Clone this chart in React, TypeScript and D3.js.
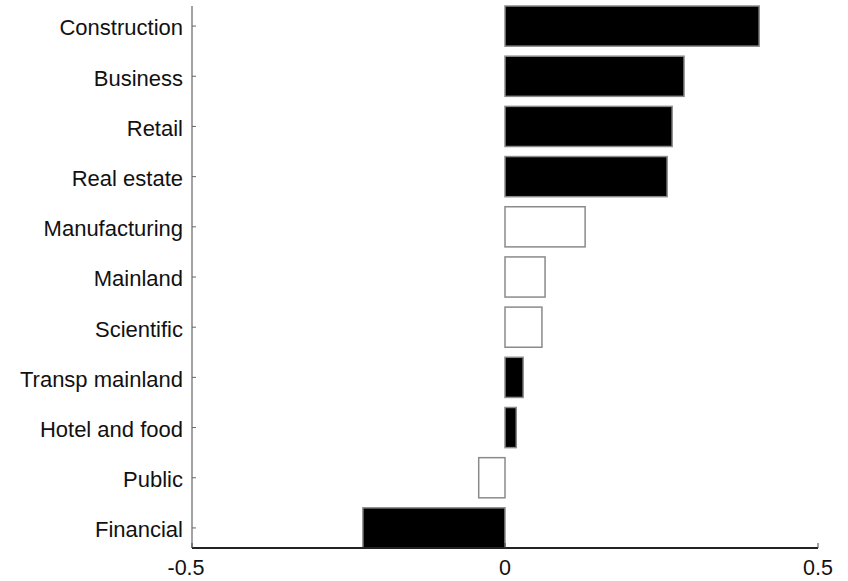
import React from "react";
import * as d3 from "d3";

const categories = [
  "Construction",
  "Business",
  "Retail",
  "Real estate",
  "Manufacturing",
  "Mainland",
  "Scientific",
  "Transp mainland",
  "Hotel and food",
  "Public",
  "Financial",
];
const values = [0.406, 0.286, 0.267, 0.259, 0.128, 0.064, 0.059, 0.029, 0.018, -0.042, -0.227];
const filled = [true, true, true, true, false, false, false, true, true, false, true];
const xTicks = [-0.5, 0, 0.5];
const xTickLabels = ["-0.5", "0", "0.5"];

const W = 848;
const H = 581;
const left = 192;
const right = 818;
const top = 6;
const bottom = 548;

export default function App() {
  const x = d3.scaleLinear().domain([-0.5, 0.5]).range([left, right]);
  const y = d3
    .scaleBand<string>()
    .domain(categories)
    .range([top, bottom])
    .paddingInner(0.2)
    .paddingOuter(0);
  const font = "'Liberation Sans', Arial, sans-serif";
  return (
    <svg
      width={W}
      height={H}
      style={{ position: "absolute", left: 0, top: 0, background: "#fff" }}
      fontFamily={font}
    >
      {categories.map((c, i) => {
        const v = values[i];
        const x0 = x(Math.min(0, v));
        const x1 = x(Math.max(0, v));
        return (
          <rect
            key={c}
            x={x0}
            y={y(c)!}
            width={x1 - x0}
            height={y.bandwidth()}
            fill={filled[i] ? "#000" : "#fff"}
            stroke="#8a8a8a"
            strokeWidth={1.5}
          />
        );
      })}
      {/* left axis */}
      <line x1={left} x2={left} y1={top} y2={bottom} stroke="#666" strokeWidth={1.2} />
      {categories.map((c) => {
        const cy = y(c)! + y.bandwidth() / 2;
        return (
          <g key={c}>
            <line x1={left} x2={left + 4} y1={cy} y2={cy} stroke="#666" strokeWidth={1} />
            <text x={left - 9} y={cy + 1.5} dy="0.36em" textAnchor="end" fontSize={22} fill="#111">
              {c}
            </text>
          </g>
        );
      })}
      {/* bottom axis */}
      <line x1={left} x2={right} y1={bottom} y2={bottom} stroke="#222" strokeWidth={1.8} />
      {xTicks.map((t, i) => (
        <g key={t}>
          <line x1={x(t)} x2={x(t)} y1={bottom} y2={bottom - 5} stroke="#444" strokeWidth={1} />
          <text
            x={x(t) + (t < 0 ? -6 : 0)}
            y={575}
            textAnchor="middle"
            fontSize={21.5}
            fill="#111"
          >
            {xTickLabels[i]}
          </text>
        </g>
      ))}
    </svg>
  );
}
